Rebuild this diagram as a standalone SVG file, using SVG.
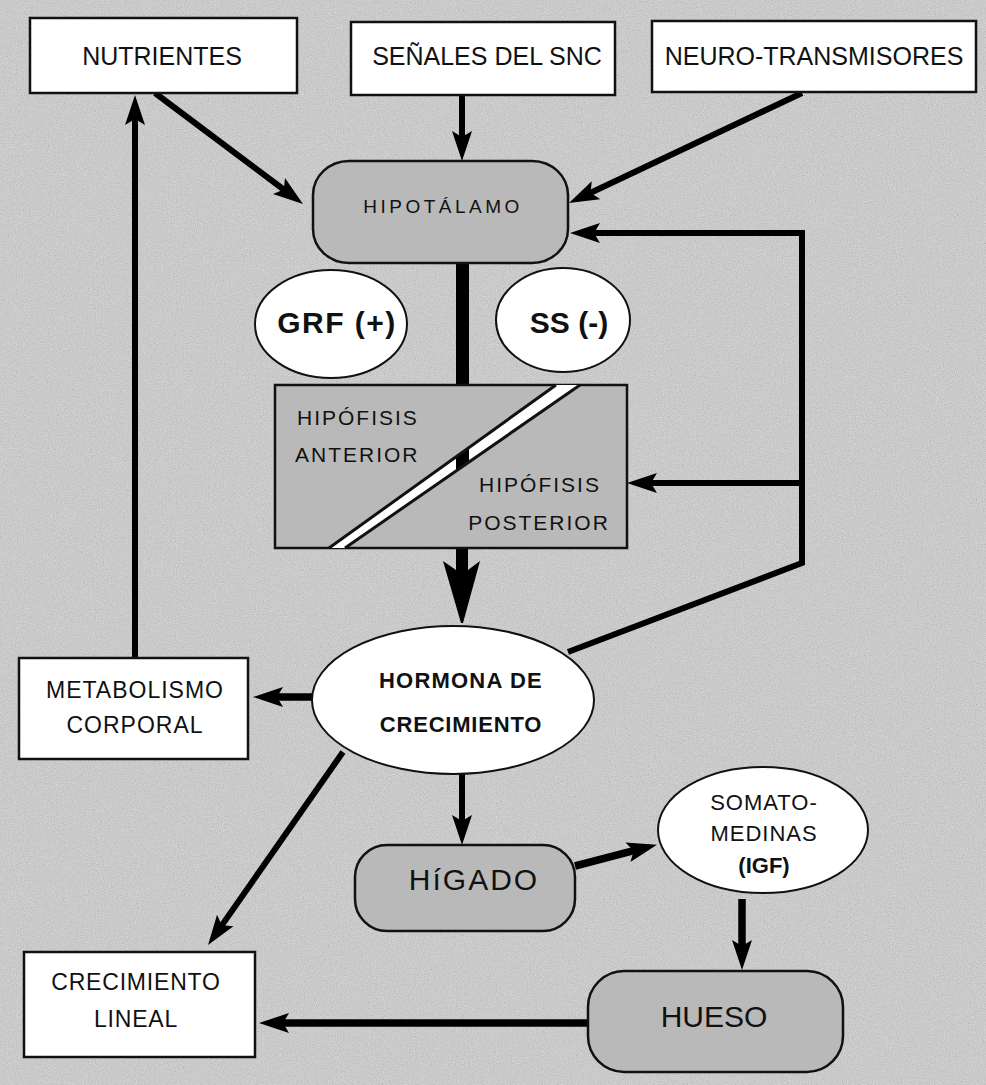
<svg xmlns="http://www.w3.org/2000/svg" width="986" height="1085" viewBox="0 0 986 1085">
<defs>
<style>
.box{fill:#ffffff;stroke:#111;stroke-width:2.5}
.shade{fill:#b9b9b9;stroke:#111;stroke-width:2.5}
.ell{fill:#ffffff;stroke:#111;stroke-width:2}
.t{font-family:"Liberation Sans",Arial,sans-serif;fill:#111;text-anchor:middle}
.b{font-weight:bold}
.c{fill:none;stroke:#000;stroke-width:6;stroke-linejoin:miter}
.c7{fill:none;stroke:#000;stroke-width:7.5}
</style>
<marker id="ah" markerUnits="userSpaceOnUse" markerWidth="32" markerHeight="22" viewBox="0 0 32 22" refX="10" refY="11" orient="auto">
<path d="M0,1 L30,11 L0,21 L6,11 z" fill="#000"/>
</marker>
<filter id="noise" x="0" y="0" width="100%" height="100%">
<feTurbulence type="fractalNoise" baseFrequency="0.85" numOctaves="2" seed="7" result="n"/>
<feColorMatrix in="n" type="matrix" values="0.33 0.33 0.33 0 0  0.33 0.33 0.33 0 0  0.33 0.33 0.33 0 0  0 0 0 0 0.45"/>
</filter>
<clipPath id="stripeClip"><polygon points="556,385 580,385 345,548 329,548"/></clipPath>
</defs>

<rect x="0" y="0" width="986" height="1085" fill="#d6d6d6"/>
<rect x="0" y="0" width="986" height="1085" filter="url(#noise)"/>

<g id="connectors">
<path class="c" d="M155,93 L287,192" marker-end="url(#ah)"/>
<path class="c" d="M462,95 L462,141" marker-end="url(#ah)"/>
<path class="c" d="M802,93 L587,194.5" marker-end="url(#ah)"/>
<path class="c" d="M568,652 L802,563 L802,233 L590,233" marker-end="url(#ah)"/>
<path class="c" d="M802,483 L647,483" marker-end="url(#ah)"/>
<path class="c" d="M135,658 L135,115" marker-end="url(#ah)"/>
<rect x="456" y="262" width="13" height="124" fill="#000"/>
<polygon points="456,548 468,548 468,570 480,561 463,623 461,623 443,561 456,570" fill="#000"/>
<path class="c7" d="M312,697 L273,697" marker-end="url(#ah)"/>
<path class="c" d="M462,773 L462,825" marker-end="url(#ah)"/>
<path class="c" d="M343,752 L219.5,928.6" marker-end="url(#ah)"/>
<path class="c7" d="M575,866 L637.6,849.7" marker-end="url(#ah)"/>
<path class="c7" d="M742,899 L742,950" marker-end="url(#ah)"/>
<path class="c7" d="M588,1023 L279,1023" marker-end="url(#ah)"/>
</g>

<g id="nutrientes">
<rect class="box" x="30" y="18" width="267" height="75"/>
<text class="t" x="162" y="65" font-size="25">NUTRIENTES</text>
</g>
<g id="senales">
<rect class="box" x="351" y="22" width="264" height="73"/>
<text class="t" x="487" y="65" font-size="25">SEÑALES DEL SNC</text>
</g>
<g id="neurotransmisores">
<rect class="box" x="652" y="21" width="324" height="71"/>
<text class="t" x="814" y="65" font-size="25">NEURO-TRANSMISORES</text>
</g>

<g id="hipotalamo">
<rect class="shade" x="313" y="161" width="255" height="102" rx="36" ry="34"/>
<text class="t" x="443" y="213" font-size="19" letter-spacing="3.5">HIPOTÁLAMO</text>
</g>

<g id="grf">
<ellipse class="ell" cx="331" cy="324" rx="76" ry="54"/>
<text class="t b" x="337" y="333" font-size="30" letter-spacing="1.5">GRF (+)</text>
</g>
<g id="ss">
<ellipse class="ell" cx="563" cy="320" rx="67" ry="52"/>
<text class="t b" x="569" y="333" font-size="30">SS (-)</text>
</g>

<g id="hipofisis">
<rect class="shade" x="275" y="385" width="352" height="163"/>
<polygon points="556,385 580,385 345,548 329,548" fill="#ffffff"/>
<rect x="456" y="385" width="13" height="163" fill="#000" clip-path="url(#stripeClip)"/>
<line x1="556" y1="385" x2="329" y2="548" stroke="#111" stroke-width="3"/>
<line x1="580" y1="385" x2="345" y2="548" stroke="#111" stroke-width="3"/>
<text class="t" x="297" y="425" font-size="21" letter-spacing="2" text-anchor="start" style="text-anchor:start">HIPÓFISIS</text>
<text class="t" x="295" y="462" font-size="21" letter-spacing="2" style="text-anchor:start">ANTERIOR</text>
<text class="t" x="540" y="492" font-size="21" letter-spacing="2">HIPÓFISIS</text>
<text class="t" x="539" y="530" font-size="21" letter-spacing="2">POSTERIOR</text>
</g>

<g id="hormona">
<ellipse class="ell" cx="453" cy="700" rx="141" ry="74"/>
<text class="t b" x="461" y="688" font-size="22" letter-spacing="1.2">HORMONA DE</text>
<text class="t b" x="461" y="732" font-size="22" letter-spacing="0.8">CRECIMIENTO</text>
</g>

<g id="metabolismo">
<rect class="box" x="19" y="658" width="229" height="101"/>
<text class="t" x="135" y="698" font-size="23" letter-spacing="1">METABOLISMO</text>
<text class="t" x="135" y="733" font-size="23" letter-spacing="1">CORPORAL</text>
</g>

<g id="higado">
<rect class="shade" x="355" y="845" width="220" height="86" rx="32" ry="32"/>
<text class="t" x="474" y="890" font-size="30" letter-spacing="2">HíGADO</text>
</g>

<g id="somatomedinas">
<ellipse class="ell" cx="763" cy="830" rx="105" ry="63"/>
<text class="t" x="764" y="810" font-size="22" letter-spacing="1">SOMATO-</text>
<text class="t" x="764" y="841" font-size="22" letter-spacing="1">MEDINAS</text>
<text class="t b" x="764" y="873" font-size="22">(IGF)</text>
</g>

<g id="crecimiento-lineal">
<rect class="box" x="24" y="952" width="231" height="105"/>
<text class="t" x="136" y="990" font-size="23" letter-spacing="0.8">CRECIMIENTO</text>
<text class="t" x="136" y="1027" font-size="23" letter-spacing="0.8">LINEAL</text>
</g>

<g id="hueso">
<rect class="shade" x="588" y="971" width="255" height="101" rx="36" ry="36"/>
<text class="t" x="714" y="1027" font-size="30">HUESO</text>
</g>
</svg>
